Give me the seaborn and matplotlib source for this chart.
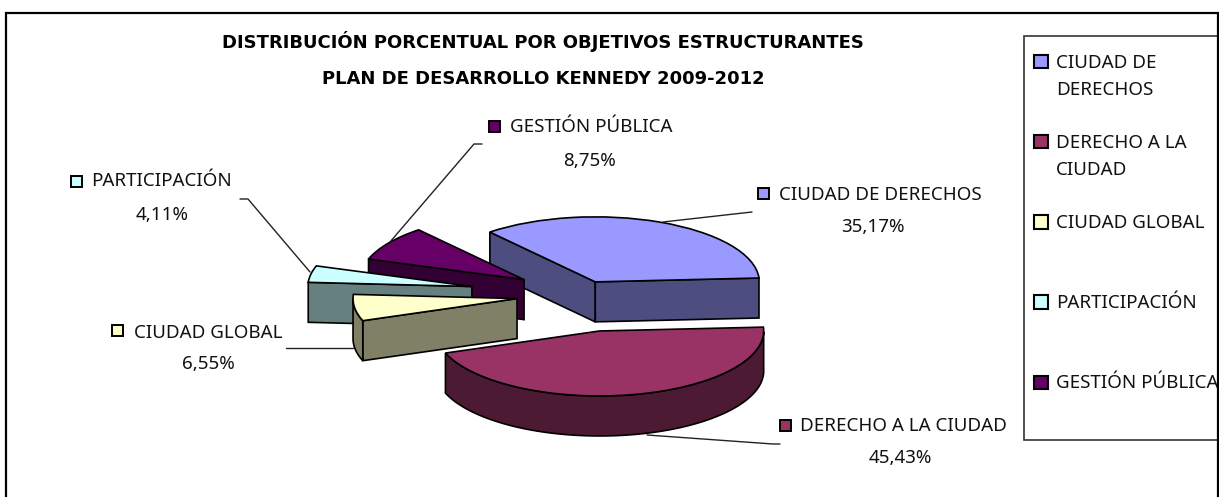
import numpy as np
import matplotlib
matplotlib.use("Agg")
import matplotlib.pyplot as plt
from matplotlib.patches import Rectangle, Polygon
import seaborn as sns

# ---- data ----
categories = ["CIUDAD DE DERECHOS", "DERECHO A LA CIUDAD", "CIUDAD GLOBAL",
              "PARTICIPACIÓN", "GESTIÓN PÚBLICA"]
legend_labels = ["CIUDAD DE\nDERECHOS", "DERECHO A LA\nCIUDAD", "CIUDAD GLOBAL\n ",
                 "PARTICIPACIÓN\n ", "GESTIÓN PÚBLICA\n "]
values = [35.17, 45.43, 6.55, 4.11, 8.75]
value_labels = ["35,17%", "45,43%", "6,55%", "4,11%", "8,75%"]
title_lines = ["DISTRIBUCIÓN PORCENTUAL POR OBJETIVOS ESTRUCTURANTES",
               "PLAN DE DESARROLLO KENNEDY 2009-2012"]

# ---- style ----
W, H = 1219, 497
top_colors = ["#9999FF", "#993366", "#FFFFCC", "#CCFFFF", "#660066"]
side_colors = ["#4D4D80", "#4D1A33", "#808066", "#668080", "#330033"]
explode = [0.22, 0.565, 0.394, 0.678, 0.42]
CX, CY, RX, RY, DEPTH = 581, 295, 164, 65, 40
START = 130
draw_order = [0, 4, 3, 2, 1]
EDGE = "#000000"
LW = 1.2
FS = 13.5

sns.set_theme(style="white")
plt.rcParams["font.family"] = ["Noto Sans", "DejaVu Sans"]

fig = plt.figure(figsize=(W / 100, H / 100), dpi=100, facecolor="white")

# pie axes: data units are pie radii, the unequal scale gives the tilt
ax = fig.add_axes([0, 0, 1, 1])
palette = sns.color_palette(top_colors)
wedges, _ = ax.pie(values, colors=palette, explode=explode, startangle=START,
                   counterclock=False, radius=1,
                   wedgeprops=dict(edgecolor=EDGE, linewidth=LW))
ax.set_aspect("auto")
ax.set_xlim(-CX / RX, (W - CX) / RX)
ax.set_ylim((CY - H) / RY, CY / RY)
ax.axis("off")

d = DEPTH / RY
for rank, i in enumerate(draw_order):
    w = wedges[i]
    cx, cy = w.center
    t1, t2 = w.theta1, w.theta2
    z = 3 + rank * 3
    w.set_zorder(z + 2)
    # radial faces visible from the viewer
    for ang, normal in ((t2, t2 + 90), (t1, t1 - 90)):
        if np.sin(np.radians(normal)) < 0:
            px = cx + np.cos(np.radians(ang))
            py = cy + np.sin(np.radians(ang))
            ax.add_patch(Polygon([(cx, cy), (px, py), (px, py - d), (cx, cy - d)],
                                 closed=True, fc=side_colors[i], ec=EDGE, lw=LW, zorder=z))
    # outer wall: front part of the rim
    th = np.linspace(t1, t2, 200)
    th = th[np.sin(np.radians(th)) <= 0]
    if len(th) > 1:
        xs = cx + np.cos(np.radians(th))
        ys = cy + np.sin(np.radians(th))
        pts = np.r_[np.c_[xs, ys], np.c_[xs[::-1], ys[::-1] - d]]
        ax.add_patch(Polygon(pts, closed=True, fc=side_colors[i], ec=EDGE, lw=LW, zorder=z + 1))

# real legend, frame drawn on the overlay
leg = ax.legend(wedges, legend_labels, loc="upper left",
                bbox_to_anchor=(1034 / W, 1 - 54 / H), borderaxespad=0, borderpad=0,
                frameon=False, fontsize=FS, labelspacing=1.85, handlelength=0.75,
                handleheight=0.7, handletextpad=0.43, labelcolor="#111111")
for t in leg.get_texts():
    t.set_linespacing(1.67)
for h in leg.legend_handles:
    h.set_y(h.get_y() + 11)
    h.set_edgecolor("#000000")
    h.set_linewidth(1.5)

# overlay in pixel coordinates: frame, title, data labels, leader lines
ov = fig.add_axes([0, 0, 1, 1], facecolor="none")
ov.set_xlim(0, W)
ov.set_ylim(H, 0)
ov.axis("off")

ov.plot([6, 6, 1218, 1218], [H, 13, 13, H], color="#000000", lw=1.6, solid_joinstyle="miter")
ov.add_patch(Rectangle((1024, 36), 194, 404, fc="none", ec="#333333", lw=1.2))

for txt, y in zip(title_lines, (41, 79)):
    ov.text(543, y, txt, ha="center", va="center", fontsize=13, fontweight="bold",
            family="DejaVu Sans", color="#000000")

# key x, key y, text x, name y, pct centre x, pct y
label_pos = [(763, 193, 779, 195, 873, 227),
             (785, 425, 800, 426, 900, 458),
             (117, 330, 134, 333, 208, 364),
             (76, 181, 91, 181, 162, 215),
             (494, 126, 510, 127, 590, 161)]
for i, (kx, ky, tx, ny, px, py) in enumerate(label_pos):
    ov.add_patch(Rectangle((kx - 5, ky - 5), 11, 11, fc=top_colors[i], ec="#000000", lw=1.4))
    ov.text(tx, ny, categories[i], ha="left", va="center", fontsize=FS, color="#111111")
    ov.text(px, py, value_labels[i], ha="center", va="center", fontsize=FS, color="#111111")

leaders = [([752, 663], [212, 222]),
           ([780, 773, 647], [444, 444, 435]),
           ([286, 353], [348, 348]),
           ([240, 248, 310], [199, 199, 272]),
           ([482, 474, 390], [144, 144, 242])]
for xs, ys in leaders:
    ov.plot(xs, ys, color="#222222", lw=1.0)

fig.savefig("out.png", dpi=100, facecolor="white")
